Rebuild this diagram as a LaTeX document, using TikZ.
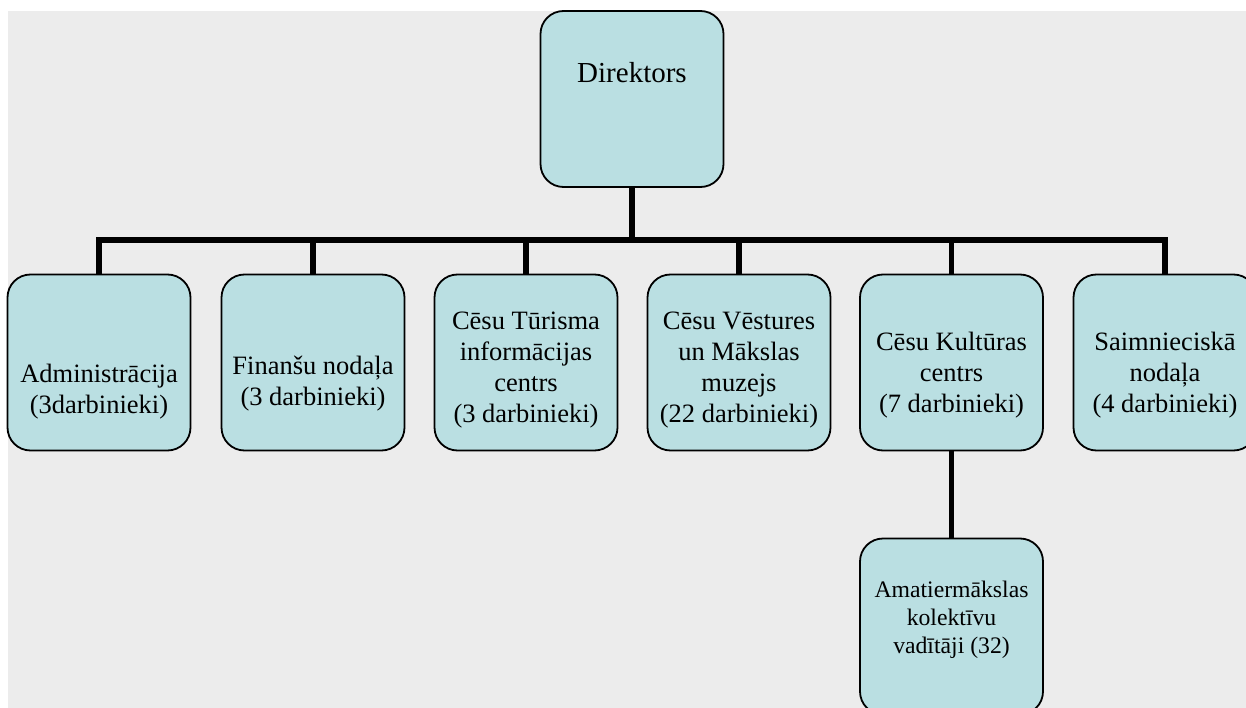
\documentclass[tikz,border=0pt]{standalone}
\usepackage{fontspec}
\setmainfont{Liberation Serif}
\definecolor{boxfill}{HTML}{BADFE2}
\definecolor{bggrey}{HTML}{ECECEC}
\tikzset{
  orgbox/.style={draw=black, line width=1.8pt, fill=boxfill, rounded corners=23pt,
    rectangle, minimum width=183pt, minimum height=176pt, inner sep=0pt},
  txt/.style={anchor=north, align=center, inner sep=0pt,
    font=\fontsize{26.5}{31}\selectfont},
  smalltxt/.style={anchor=north, align=center, inner sep=0pt,
    font=\fontsize{23.7}{28}\selectfont},
  bigtxt/.style={anchor=north, align=center, inner sep=0pt,
    font=\fontsize{29}{34}\selectfont},
  busline/.style={draw=black, line width=6pt, line join=miter},
  dropline/.style={draw=black, line width=5.3pt}
}
\begin{document}
\begin{tikzpicture}[x=1pt,y=-1pt]
\useasboundingbox (0,0) rectangle (1246,708);
\clip (0,0) rectangle (1246,708);
\fill[white] (0,0) rectangle (1246,708);
\fill[bggrey] (8,11) rectangle (1246,708);

\coordinate (busy) at (632,240);

% connectors (drawn first, boxes on top)
\coordinate (dirS) at (632,187);
\draw[busline] (99,274) -- (99,240) -- (1165,240) -- (1165,274);
\draw[dropline] (dirS) -- (busy);
\draw[dropline] (313,274) -- (313,240);
\draw[dropline] (526,274) -- (526,240);
\draw[dropline] (739,274) -- (739,240);
\draw[dropline] (951.5,274) -- (951.5,240);
\draw[dropline] (951.5,451) -- (951.5,538);

% boxes
\node[orgbox] (dir) at (632,99) {};
\node[orgbox] (b1) at (99,362.5) {};
\node[orgbox] (b2) at (313,362.5) {};
\node[orgbox] (b3) at (526,362.5) {};
\node[orgbox] (b4) at (739,362.5) {};
\node[orgbox] (b5) at (951.5,362.5) {};
\node[orgbox] (b6) at (1165,362.5) {};
\node[orgbox] (b7) at (951.5,626.5) {};

% texts
\node[bigtxt] (dirT) at (632,62) {Direktors};
\node[txt] (b1T) at (99,364) {Administrācija\\(3darbinieki)};
\node[txt] (b2T) at (313,356) {Finanšu nodaļa\\(3 darbinieki)};
\node[txt] (b3T) at (526,312) {Cēsu Tūrisma\\informācijas\\centrs\\(3 darbinieki)};
\node[txt] (b4T) at (739,312) {Cēsu Vēstures\\un Mākslas\\muzejs\\(22 darbinieki)};
\node[txt] (b5T) at (951.5,332) {Cēsu Kultūras\\centrs\\(7 darbinieki)};
\node[txt] (b6T) at (1165,332) {Saimnieciskā\\nodaļa\\(4 darbinieki)};
\node[smalltxt] (b7T) at (951.5,581) {Amatiermākslas\\kolektīvu\\vadītāji (32)};
\end{tikzpicture}
\end{document}
